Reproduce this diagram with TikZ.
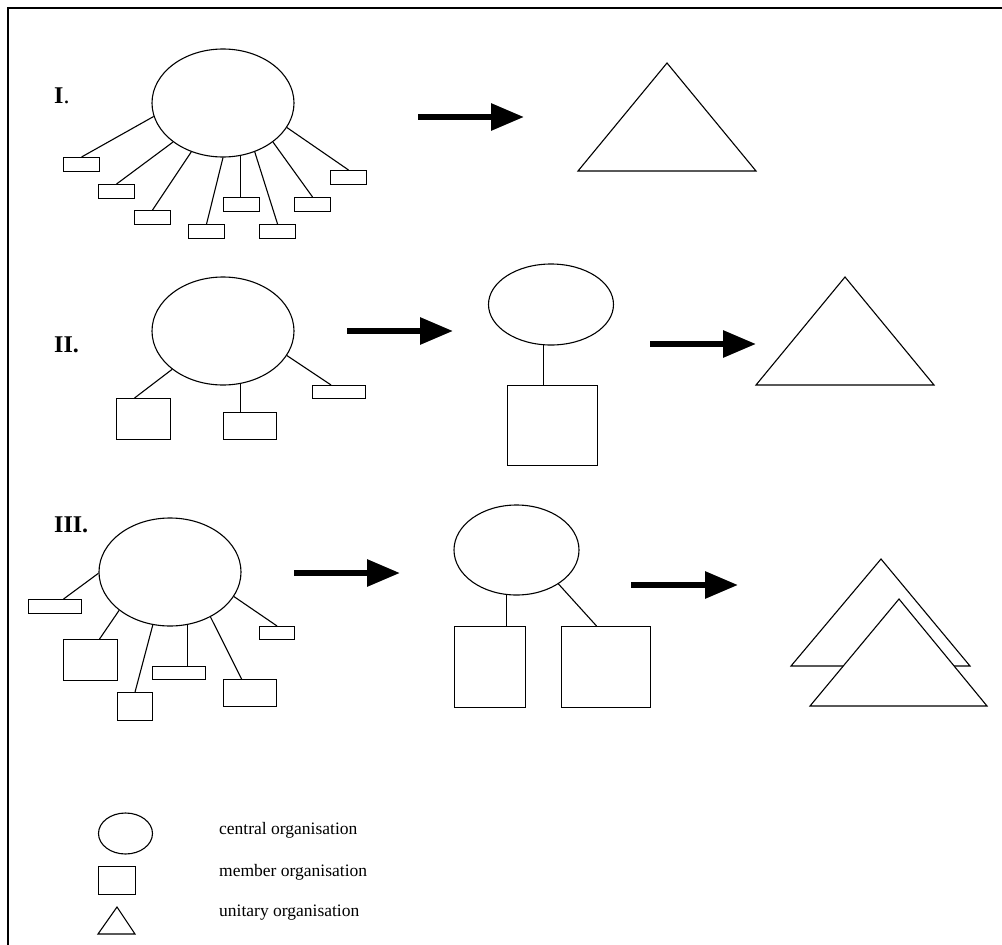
\documentclass[tikz,border=0pt]{standalone}
\usepackage{fontspec}
\setmainfont{Liberation Serif}
\usetikzlibrary{shapes.geometric,arrows.meta}
\newcommand\mrect[5]{\node[memb,minimum width=#4pt,minimum height=#5pt] (#1) at (#2,#3) {};}
\begin{document}
\begin{tikzpicture}[x=1pt,y=-1pt,
  shp/.style={draw, line width=1.1pt, inner sep=0pt},
  cent/.style={shp, ellipse},
  memb/.style={shp, rectangle, anchor=north west},
  link/.style={line width=1.1pt},
  bigarrow/.style={line width=6pt, -{Triangle[length=33pt,width=26pt]}},
  tri/.style={draw, line width=1.1pt, line join=miter, fill=white},
  numeral/.style={anchor=west, inner sep=0pt, font=\fontsize{24}{26}\selectfont\bfseries},
  legtext/.style={anchor=west, inner sep=0pt, font=\fontsize{17.5}{20}\selectfont}]
\useasboundingbox (0,0) rectangle (1002,945);
\draw[line width=2pt] (8,945) -- (8,8) -- (1002,8);

% ---------- Section I ----------
\node[numeral] (nI) at (54,96) {I{\mdseries .}};
\node[cent, minimum width=142pt, minimum height=108pt] (e1) at (223,103) {};
\mrect{r1}{63}{157}{36}{14}
\mrect{r2}{98}{184}{36}{14}
\mrect{r3}{134}{210}{36}{14}
\mrect{r4}{188}{224}{36}{14}
\mrect{r5}{223}{197}{36}{14}
\mrect{r6}{259}{224}{36}{14}
\mrect{r7}{294}{197}{36}{14}
\mrect{r8}{330}{170}{36}{14}
\draw[link] (e1.191) -- (r1.north);
\draw[link] (e1.218) -- (r2.north);
\draw[link] (e1.237) -- (r3.north);
\draw[link] (e1.270) -- (r4.north);
\draw[link] (e1.288) -- (e1.288 |- r5.north);
\draw[link] (e1.303) -- (r6.north);
\draw[link] (e1.322) -- (r7.north);
\draw[link] (e1.339) -- (r8.north);
\coordinate (aIs) at (418,117); \coordinate (aIe) at (524,117);
\draw[bigarrow] (aIs) -- (aIe);
\draw[tri] (578,171) -- (756,171) -- (667,63) -- cycle;

% ---------- Section II ----------
\node[numeral] (nII) at (54,345) {II.};
\node[cent, minimum width=142pt, minimum height=108pt] (e2) at (223,331) {};
\mrect{rA}{116}{398}{54}{41}
\mrect{rB}{223}{412}{53}{27}
\mrect{rC}{312}{385}{53}{13}
\draw[link] (e2.217) -- ([xshift=-9pt]rA.north);
\draw[link] (e2.288) -- (e2.288 |- rB.north);
\draw[link] (e2.339) -- ([xshift=-8pt]rC.north);
\coordinate (aIIs) at (347,331); \coordinate (aIIe) at (453,331);
\draw[bigarrow] (aIIs) -- (aIIe);
\node[cent, minimum width=125pt, minimum height=81pt] (e2b) at (551,304.5) {};
\mrect{s2b}{507}{385}{90}{80}
\draw[link] (e2b.259) -- (e2b.259 |- s2b.north);
\coordinate (aIIbs) at (650,344); \coordinate (aIIbe) at (756,344);
\draw[bigarrow] (aIIbs) -- (aIIbe);
\draw[tri] (756,385) -- (934,385) -- (845,277) -- cycle;

% ---------- Section III ----------
\node[numeral] (nIII) at (54,525) {III.};
\node[cent, minimum width=142pt, minimum height=108pt] (e3) at (170,572) {};
\mrect{ta}{28}{599}{53}{14}
\mrect{tb}{63}{639}{54}{41}
\mrect{tc}{117}{692}{35}{28}
\mrect{td}{152}{666}{53}{13}
\mrect{te}{223}{679}{53}{27}
\mrect{tf}{259}{626}{35}{13}
\draw[link] (e3.181) -- ([xshift=8.5pt]ta.north);
\draw[link] (e3.217) -- ([xshift=9pt]tb.north);
\draw[link] (e3.252) -- (tc.north);
\draw[link] (e3.288) -- (e3.288 |- td.north);
\draw[link] (e3.312) -- ([xshift=-8.5pt]te.north);
\draw[link] (e3.339) -- (tf.north);
\coordinate (aIIIs) at (294,573); \coordinate (aIIIe) at (400,573);
\draw[bigarrow] (aIIIs) -- (aIIIe);
\node[cent, minimum width=125pt, minimum height=90pt] (e3b) at (516.5,550) {};
\mrect{s31}{454}{626}{71}{81}
\mrect{s32}{561}{626}{89}{81}
\draw[link] (e3b.258) -- (e3b.258 |- s31.north);
\draw[link] (e3b.321) -- ([xshift=-9.5pt]s32.north);
\coordinate (aIIIbs) at (631,585); \coordinate (aIIIbe) at (738,585);
\draw[bigarrow] (aIIIbs) -- (aIIIbe);
\draw[tri] (791,666) -- (970,666) -- (881,559) -- cycle;
\draw[tri] (810,706) -- (987,706) -- (899,599) -- cycle;

% ---------- Legend ----------
\node[cent, minimum width=54pt, minimum height=41pt] (lc) at (125.5,833.5) {};
\mrect{lm}{98}{866}{37}{28}
\draw[tri] (98,934) -- (135,934) -- (117,907) -- cycle;
\node[legtext] (tc1) at (219,830) {central organisation};
\node[legtext] (tc2) at (219,872) {member organisation};
\node[legtext] (tc3) at (219,913) {unitary organisation};
\end{tikzpicture}
\end{document}
